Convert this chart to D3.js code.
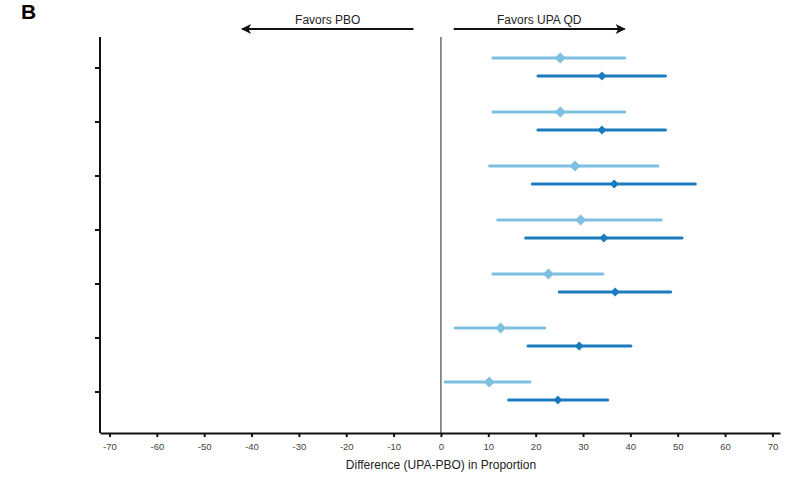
<!DOCTYPE html>
<html>
<head>
<meta charset="utf-8">
<script src="https://cdn.jsdelivr.net/npm/d3@7"></script>
<style>
  body { margin: 0; background: #fff; }
  svg text { font-family: "Liberation Sans", Arial, sans-serif; }
</style>
</head>
<body>
<div class="forest"></div>
<script>
// rows top to bottom (the y-axis carries no labels in the original)
const rows = ['r1', 'r2', 'r3', 'r4', 'r5', 'r6', 'r7'];

// light series (estimate, lower, upper)
const lightEst = [25.2, 25.2, 28.3, 29.5, 22.7, 12.6, 10.2];
const lightLo  = [11.0, 11.0, 10.3, 12.0, 11.0, 3.0, 0.9];
const lightHi  = [38.8, 38.8, 45.8, 46.5, 34.2, 21.9, 18.8];

// dark series
const darkEst = [34.0, 34.0, 36.6, 34.4, 36.8, 29.2, 24.7];
const darkLo  = [20.5, 20.5, 19.3, 17.9, 25.0, 18.4, 14.3];
const darkHi  = [47.4, 47.4, 53.7, 50.9, 48.5, 40.1, 35.2];

const xTicks = [-70, -60, -50, -40, -30, -20, -10, 0, 10, 20, 30, 40, 50, 60, 70];

const W = 788, H = 485;

const svg = d3.select('div.forest')
  .append('svg')
  .attr('width', W)
  .attr('height', H);

const x = d3.scaleLinear().domain([-72, 71.6]).range([100, 780]);
const y = d3.scaleBand().domain(rows).range([41, 419]);

const series = [
  {est: lightEst, lo: lightLo, hi: lightHi, color: '#7fbfe0', dy: -10, r: 5.5},
  {est: darkEst,  lo: darkLo,  hi: darkHi,  color: '#1a7cbe', dy: 8,   r: 4.5}
];

// panel letter
svg.append('text')
  .attr('x', 21).attr('y', 19)
  .style('font-size', '21px').style('font-weight', 'bold')
  .text('B');

// arrow marker
svg.append('defs').append('marker')
  .attr('id', 'arr')
  .attr('viewBox', '0 0 10 10')
  .attr('refX', 9).attr('refY', 5)
  .attr('markerWidth', 7).attr('markerHeight', 5)
  .attr('markerUnits', 'strokeWidth')
  .attr('orient', 'auto')
  .append('path').attr('d', 'M0,0 L10,5 L0,10 L2.5,5 Z').attr('fill', '#111');

// favours arrows
const arrows = [
  {from: -5.8, to: -42, label: 'Favors PBO'},
  {from: 2.7, to: 38.8, label: 'Favors UPA QD'}
];
arrows.forEach(a => {
  svg.append('line')
    .attr('x1', x(a.from)).attr('x2', x(a.to))
    .attr('y1', 29).attr('y2', 29)
    .attr('stroke', '#111').attr('stroke-width', 2)
    .attr('marker-end', 'url(#arr)');
  svg.append('text')
    .attr('x', (x(a.from) + x(a.to)) / 2).attr('y', 24)
    .attr('text-anchor', 'middle')
    .style('font-size', '12px').attr('fill', '#222')
    .text(a.label);
});

// x axis
const xAxis = svg.append('g')
  .attr('transform', 'translate(0,433)')
  .call(d3.axisBottom(x).tickValues(xTicks).tickFormat(d => String(d))
    .tickSize(4).tickSizeOuter(0).tickPadding(6));
xAxis.select('.domain').attr('stroke', '#111').attr('stroke-width', 2);
xAxis.selectAll('.tick line').attr('stroke', '#111').attr('stroke-width', 2);
xAxis.selectAll('.tick text')
  .style('font-size', '9.5px').attr('fill', '#444')
  .style('font-family', '"Liberation Sans", Arial, sans-serif');

svg.append('text')
  .attr('x', x(0)).attr('y', 469)
  .attr('text-anchor', 'middle')
  .style('font-size', '12px').attr('fill', '#222')
  .text('Difference (UPA-PBO) in Proportion');

// y axis (no labels)
const yAxis = svg.append('g')
  .attr('transform', 'translate(100,0)')
  .call(d3.axisLeft(y).tickSize(5).tickSizeOuter(0).tickFormat(''));
yAxis.select('.domain').attr('d', 'M0,37V433').attr('stroke', '#111').attr('stroke-width', 2);
yAxis.selectAll('.tick line').attr('stroke', '#111').attr('stroke-width', 2);

// zero line
svg.append('line')
  .attr('x1', x(0)).attr('x2', x(0))
  .attr('y1', 37).attr('y2', 433)
  .attr('stroke', '#222').attr('stroke-width', 1);

const cy = r => y(r) + y.bandwidth() / 2;

series.forEach(s => {
  const g = svg.append('g');
  g.selectAll('line.ci')
    .data(rows)
    .enter().append('line')
      .attr('class', 'ci')
      .attr('x1', (d, i) => x(s.lo[i]))
      .attr('x2', (d, i) => x(s.hi[i]))
      .attr('y1', d => cy(d) + s.dy)
      .attr('y2', d => cy(d) + s.dy)
      .attr('stroke', s.color)
      .attr('stroke-width', 3.2)
      .attr('stroke-linecap', 'round');
  g.selectAll('path.est')
    .data(rows)
    .enter().append('path')
      .attr('class', 'est')
      .attr('transform', (d, i) => `translate(${x(s.est[i])},${cy(d) + s.dy})`)
      .attr('d', `M0,${-s.r}L${s.r},0L0,${s.r}L${-s.r},0Z`)
      .attr('fill', s.color);
});
</script>
</body>
</html>
